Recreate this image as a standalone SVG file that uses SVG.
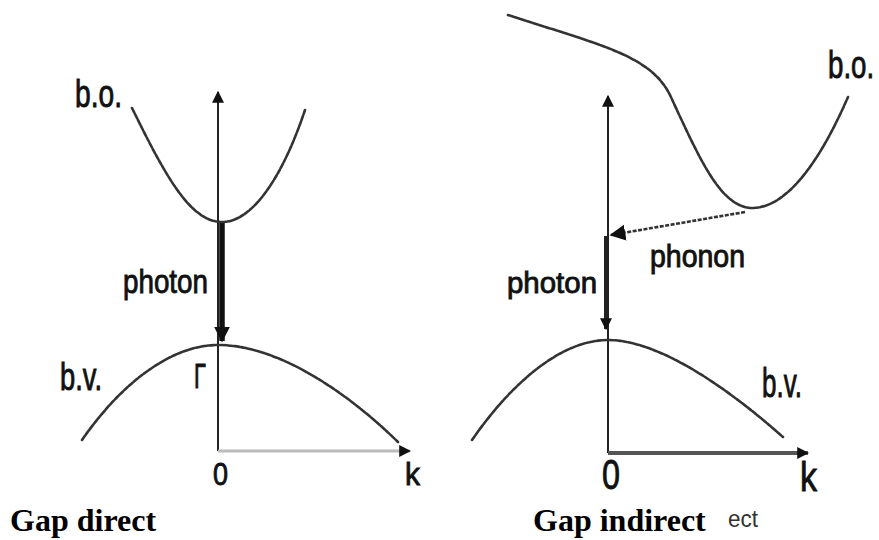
<svg xmlns="http://www.w3.org/2000/svg" width="879" height="540" viewBox="0 0 879 540">
<style>
.band{fill:none;stroke:#333;stroke-width:2.6;stroke-dasharray:5 1.5;stroke-linecap:round}
.axis{fill:none;stroke:#222;stroke-width:2}
.lbl{font-family:"Liberation Sans",Arial,sans-serif;fill:#111;stroke:#111;stroke-width:0.9}
.cap{font-family:"Liberation Serif","Times New Roman",serif;font-weight:bold;font-size:32px;fill:#000}
</style>
<defs>
<marker id="ah" viewBox="0 0 10 10" refX="9" refY="5" markerWidth="12" markerHeight="12" markerUnits="userSpaceOnUse" orient="auto">
<path d="M0,0 L10,5 L0,10 z" fill="#111"/>
</marker>
<marker id="ahBig" viewBox="0 0 10 10" refX="9" refY="5" markerWidth="16" markerHeight="17" markerUnits="userSpaceOnUse" orient="auto">
<path d="M0,0 L10,5 L0,10 z" fill="#111"/>
</marker>
</defs>

<g id="connectors">
<line id="left-yaxis" x1="218" y1="451" x2="218" y2="92" class="axis" marker-end="url(#ah)"/>
<line id="left-kaxis" x1="218" y1="451" x2="410" y2="451" stroke="#bbb" stroke-width="3" marker-end="url(#ah)"/>
<line id="left-photon" x1="222" y1="222" x2="222" y2="341" stroke="#111" stroke-width="5.5" marker-end="url(#ahBig)"/>
<line id="right-yaxis" x1="608" y1="453" x2="608" y2="96" class="axis" marker-end="url(#ah)"/>
<line id="right-kaxis" x1="608" y1="453" x2="808" y2="453" stroke="#555" stroke-width="4" marker-end="url(#ah)"/>
<line id="right-photon" x1="606" y1="236" x2="606" y2="329" stroke="#222" stroke-width="4" marker-end="url(#ah)"/>
<line id="phonon" x1="745" y1="212" x2="611" y2="235" stroke="#333" stroke-width="2.6" stroke-dasharray="4 1.5" marker-end="url(#ahBig)"/>
</g>

<g id="left-bo">
<path class="band" d="M132,108 C165,175 190,222 222,222 C255,222 285,170 305,110"/>
<text class="lbl" x="75" y="107" font-size="39" textLength="47" lengthAdjust="spacingAndGlyphs">b.o.</text>
</g>
<g id="left-bv">
<path class="band" d="M82,440 C120,385 170,345 218,345 C280,345 350,395 398,442"/>
<text class="lbl" x="60" y="390" font-size="38" textLength="42" lengthAdjust="spacingAndGlyphs">b.v.</text>
</g>
<g id="left-labels">
<text class="lbl" x="123" y="293" font-size="34" textLength="85" lengthAdjust="spacingAndGlyphs">photon</text>
<text class="lbl" x="194" y="388" font-size="35" textLength="12" lengthAdjust="spacingAndGlyphs">Γ</text>
<text class="lbl" x="213" y="485" font-size="32" textLength="15" lengthAdjust="spacingAndGlyphs">0</text>
<text class="lbl" x="405" y="485" font-size="32" textLength="15" lengthAdjust="spacingAndGlyphs">k</text>
<text class="cap" x="10" y="531">Gap direct</text>
</g>

<g id="right-bo">
<path class="band" d="M508,15 C600,45 650,55 670,95 C700,160 720,205 750,208 C790,210 825,150 848,97"/>
<text class="lbl" transform="translate(828,78) scale(0.71,1)" x="0" y="0" font-size="39">b.o.</text>
</g>
<g id="right-bv">
<path class="band" d="M472,440 C510,385 560,340 608,340 C660,340 730,390 783,437"/>
<text class="lbl" x="762" y="397" font-size="40" textLength="40" lengthAdjust="spacingAndGlyphs">b.v.</text>
</g>
<g id="right-labels">
<text class="lbl" x="650" y="267" font-size="31" textLength="95" lengthAdjust="spacingAndGlyphs">phonon</text>
<text class="lbl" x="507" y="293" font-size="30" textLength="90" lengthAdjust="spacingAndGlyphs">photon</text>
<text class="lbl" x="602" y="489" font-size="42" textLength="18" lengthAdjust="spacingAndGlyphs">0</text>
<text class="lbl" x="800" y="491" font-size="40" textLength="17" lengthAdjust="spacingAndGlyphs">k</text>
<text class="cap" x="533" y="531" font-size="31.5">Gap indirect</text>
<text x="728" y="527" font-family="Liberation Sans, Arial, sans-serif" font-size="24" fill="#333" textLength="30" lengthAdjust="spacingAndGlyphs">ect</text>
</g>
</svg>
